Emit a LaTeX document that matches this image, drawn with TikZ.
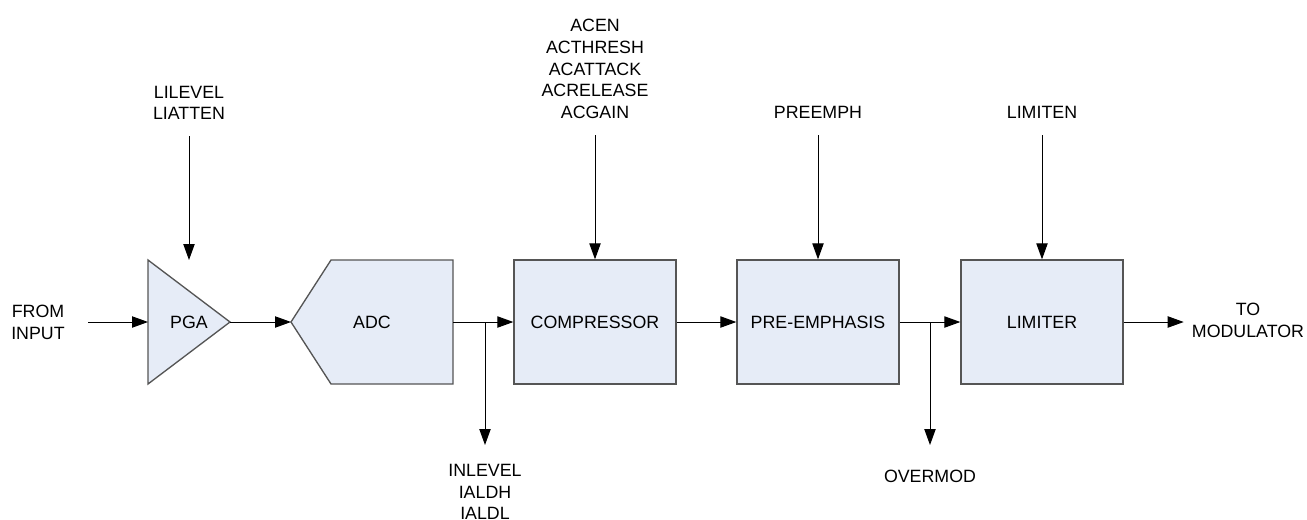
\documentclass[tikz,border=0pt]{standalone}
\usepackage{fontspec}
\setmainfont{Liberation Sans}
\usetikzlibrary{arrows.meta}
\definecolor{blkfill}{RGB}{230,236,247}
\definecolor{blkline}{RGB}{85,85,85}
\tikzset{
  lbl/.style={align=center, inner sep=0pt, font=\fontsize{13.35}{16.3}\selectfont},
  blk/.style={lbl, draw=blkline, fill=blkfill, line width=1pt, minimum width=121.5pt, minimum height=93pt},
  sig/.style={->, >={Triangle[length=12pt,width=8.5pt]}, line width=0.75pt},
}

\begin{document}
\begin{tikzpicture}[x=0.75pt, y=-0.75pt]
\useasboundingbox (0,0) rectangle (1307,519);
% PGA and ADC
\draw[draw=blkline, fill=blkfill, line width=1pt] (148,260) -- (230,322) -- (148,384) -- cycle;
\node[lbl] (pga) at (189,322) {PGA};
\coordinate (pgain) at (148,322);
\coordinate (pgaout) at (230,322);
\coordinate (pgactl) at (189,260);
\draw[draw=blkline, fill=blkfill, line width=1pt] (291,322) -- (331,260) -- (453,260) -- (453,384) -- (331,384) -- cycle;
\node[lbl] (adc) at (372,322) {ADC};
\coordinate (adcin) at (291,322);
\coordinate (adcout) at (453,322);
% blocks
\node[blk] (comp) at (595,322) {COMPRESSOR};
\node[blk] (pre) at (818,322) {PRE-EMPHASIS};
\node[blk] (lim) at (1042,322) {LIMITER};
% labels
\node[lbl] (fromin) at (38,322) {FROM\\INPUT};
\node[lbl] (tomod) at (1248,320) {TO\\MODULATOR};
\node[lbl, anchor=south] (lictl) at (189,120) {LILEVEL\\LIATTEN};
\node[lbl, anchor=south] (acctl) at (595,119) {ACEN\\ACTHRESH\\ACATTACK\\ACRELEASE\\ACGAIN};
\node[lbl, anchor=south] (prectl) at (818,119) {PREEMPH};
\node[lbl, anchor=south] (limctl) at (1042,119) {LIMITEN};
\node[lbl, anchor=north] (inlv) at (485,464) {INLEVEL\\IALDH\\IALDL};
\node[lbl, anchor=north] (ovm) at (930,470) {OVERMOD};
\coordinate (br1) at (485,322);
\coordinate (br2) at (930,322);
% signal path
\draw[sig, shorten <=17.6pt] (fromin.east |- pgain) -- (pgain);
\draw[sig] (pgaout) -- (adcin);
\draw[sig] (adcout) -- (comp.west);
\draw[sig] (comp.east) -- (pre.west);
\draw[sig] (pre.east) -- (lim.west);
\draw[sig, shorten >=6pt] (lim.east) -- (lim.east -| tomod.west);
% taps
\draw[sig, shorten >=14.25pt] (br1) -- (inlv.north);
\draw[sig, shorten >=18.75pt] (br2) -- (ovm.north);
% controls
\draw[sig, shorten <=12pt] (lictl.south) -- (pgactl);
\draw[sig, shorten <=12pt] (acctl.south) -- (comp.north);
\draw[sig, shorten <=12pt] (prectl.south) -- (pre.north);
\draw[sig, shorten <=12pt] (limctl.south) -- (lim.north);
\end{tikzpicture}
\end{document}
